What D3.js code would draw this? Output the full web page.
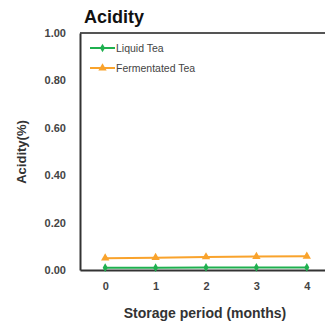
<!DOCTYPE html>
<html>
<head>
<meta charset="utf-8">
<script src="https://cdn.jsdelivr.net/npm/d3@7"></script>
<style>
  html, body { margin: 0; padding: 0; background: #fff; }
  svg { display: block; font-family: Arial, "Liberation Sans", sans-serif; }
</style>
</head>
<body>
<svg id="chart" width="325" height="325"></svg>
<script>
// Storage months and acidity readings (%)
const months = [0, 1, 2, 3, 4];
const liquidTea = [0.010, 0.010, 0.011, 0.011, 0.011];
const fermentedTea = [0.050, 0.052, 0.055, 0.057, 0.058];
const yTicks = [0, 0.2, 0.4, 0.6, 0.8, 1.0];
const seriesNames = ["Liquid Tea", "Fermentated Tea"];
const seriesColors = ["#1fb04f", "#f9a32c"];

const svg = d3.select("#chart");
const margin = { left: 80, top: 33, right: -7, bottom: 55 };
const W = 325, H = 325;

const x = d3.scaleLinear().domain([-0.5, 4.5]).range([margin.left, W - margin.right]);
const y = d3.scaleLinear().domain([0, 1]).range([H - margin.bottom, margin.top]);

// Title
svg.append("text").attr("x", 84).attr("y", 23)
  .attr("font-size", 18).attr("font-weight", "bold").attr("fill", "#111")
  .text("Acidity");

// Frame: top, left and bottom edges
const axisColor = "#333";
svg.append("line").attr("x1", x(-0.5)).attr("x2", W).attr("y1", y(1)).attr("y2", y(1))
  .attr("stroke", "#555").attr("stroke-width", 2);

const yAxis = d3.axisLeft(y).tickValues(yTicks).tickFormat(d3.format(".2f")).tickSize(0).tickPadding(14);
const gy = svg.append("g").attr("transform", `translate(${margin.left},0)`).call(yAxis);
gy.select(".domain").attr("stroke", axisColor).attr("stroke-width", 2);
gy.selectAll("text").attr("font-size", 11).attr("font-weight", "bold").attr("fill", "#444")
  .attr("font-family", "Arial, 'Liberation Sans', sans-serif");

const xAxis = d3.axisBottom(x).tickValues(months).tickFormat(d3.format("d")).tickSize(0).tickPadding(12);
const gx = svg.append("g").attr("transform", `translate(0,${y(0)})`).call(xAxis);
gx.select(".domain").attr("stroke", axisColor).attr("stroke-width", 2);
gx.selectAll("text").attr("font-size", 11).attr("font-weight", "bold").attr("fill", "#444")
  .attr("font-family", "Arial, 'Liberation Sans', sans-serif");

// Axis titles
svg.append("text").attr("transform", `translate(26,152) rotate(-90)`)
  .attr("text-anchor", "middle").attr("font-size", 13).attr("font-weight", "bold").attr("fill", "#333")
  .text("Acidity(%)");
svg.append("text").attr("x", 205).attr("y", 318)
  .attr("text-anchor", "middle").attr("font-size", 14).attr("font-weight", "bold").attr("fill", "#333")
  .text("Storage period (months)");

// Series lines and markers
const line = d3.line().x((d, i) => x(months[i])).y(d => y(d));
const allSeries = [liquidTea, fermentedTea];
const diamond = d3.symbol().type(d3.symbolDiamond).size(22);
const triangle = d3.symbol().type(d3.symbolTriangle).size(30);
const symbols = [diamond, triangle];

allSeries.forEach((vals, s) => {
  svg.append("path").datum(vals).attr("d", line)
    .attr("fill", "none").attr("stroke", seriesColors[s]).attr("stroke-width", 2);
  svg.selectAll(null).data(vals).enter().append("path")
    .attr("d", symbols[s])
    .attr("transform", (d, i) => `translate(${x(months[i])},${y(d)})`)
    .attr("fill", seriesColors[s]);
});

// Legend
const legend = svg.append("g");
seriesNames.forEach((name, s) => {
  const ly = 48 + s * 20;
  legend.append("line").attr("x1", 90).attr("x2", 115).attr("y1", ly).attr("y2", ly)
    .attr("stroke", seriesColors[s]).attr("stroke-width", 2);
  legend.append("path").attr("d", symbols[s]).attr("transform", `translate(102.5,${ly})`)
    .attr("fill", seriesColors[s]);
  legend.append("text").attr("x", 116).attr("y", ly + 4)
    .attr("font-size", 10.5).attr("fill", "#444").text(name);
});
</script>
</body>
</html>
